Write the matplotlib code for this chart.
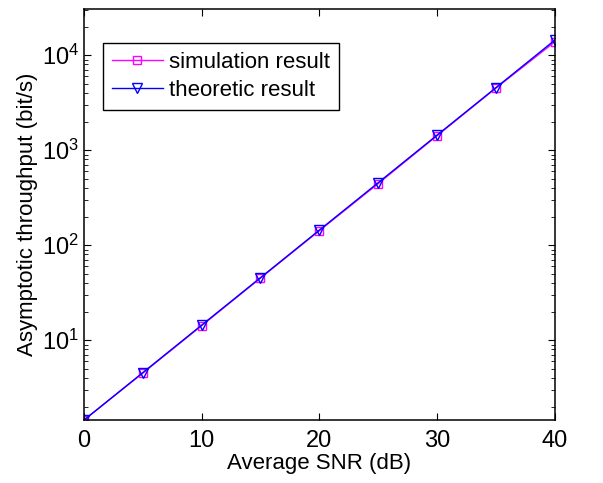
import numpy as np
from matplotlib import pyplot as plt
from matplotlib.ticker import LogLocator, NullFormatter

plt.rcParams['font.family'] = ['Liberation Sans', 'DejaVu Sans']

snr_db = [0, 5, 10, 15, 20, 25, 30, 35, 40]
sim_result = [1.44, 4.5, 14.2, 45.0, 142, 445, 1420, 4500, 13800]
theory_result = [1.44, 4.55, 14.4, 45.5, 144, 455, 1440, 4550, 14400]


def main():
    fig = plt.figure(figsize=(6.03, 4.83), dpi=100)
    ax = fig.add_axes([0.139, 0.130, 0.781, 0.851])

    ax.semilogy(snr_db, sim_result, color='#ff00ff', marker='s', markerfacecolor='none',
                markersize=6, linewidth=1, label='simulation result')
    ax.semilogy(snr_db, theory_result, color='#0000ff', marker='v', markerfacecolor='none',
                markersize=7, linewidth=1, label='theoretic result')

    ax.set_xlim(0, 40)
    ax.set_ylim(1.44, 30500)
    ax.set_xticks([0, 10, 20, 30, 40])
    ax.yaxis.set_minor_locator(LogLocator(base=10, subs=np.arange(2, 10)))
    ax.yaxis.set_minor_formatter(NullFormatter())
    ax.tick_params(which='both', direction='in', top=True, right=True, labelsize=17)
    ax.tick_params(which='major', length=5)
    ax.tick_params(which='minor', length=3)
    ax.tick_params(axis='x', pad=7)
    for s in ax.spines.values():
        s.set_linewidth(1.1)

    ax.set_xlabel('Average SNR (dB)', fontsize=16, labelpad=1)
    ax.set_ylabel('Asymptotic throughput (bit/s)', fontsize=16, labelpad=3)

    leg = ax.legend(loc='upper left', bbox_to_anchor=(0.04, 0.917), fontsize=16,
                    fancybox=False, edgecolor='black', framealpha=1,
                    handlelength=2.3, handletextpad=0.3, borderpad=0.4,
                    labelspacing=0.3, borderaxespad=0)
    leg.get_frame().set_linewidth(1)

    fig.savefig('out.png', dpi=100)


main()
